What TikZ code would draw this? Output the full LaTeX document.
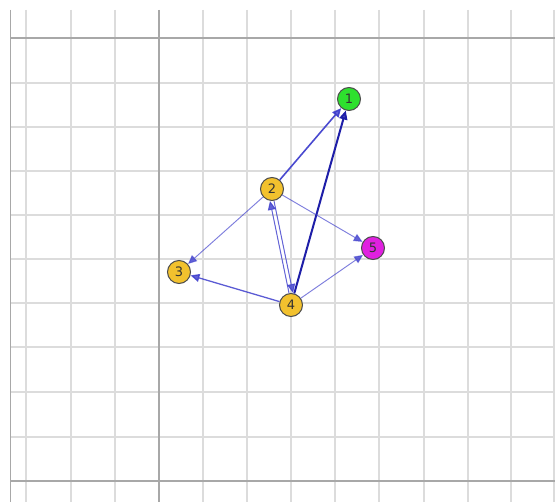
\documentclass[tikz,border=0pt]{standalone}
\usepackage{fontspec}
\setmainfont{DejaVu Sans}
\usetikzlibrary{arrows.meta}
\definecolor{gridlight}{HTML}{DCDCDC}
\definecolor{griddark}{HTML}{A8A8A8}
\definecolor{nodeorange}{HTML}{F2C12E}
\definecolor{nodegreen}{HTML}{2EE02E}
\definecolor{nodemag}{HTML}{E020E0}
\definecolor{edgeblue}{HTML}{3A3ACC}
\definecolor{edgenavy}{HTML}{1E1EA8}
\tikzset{
  vertex/.style={circle, draw=black!70, line width=1pt, minimum size=23pt, inner sep=0pt, font=\fontsize{13}{13}\selectfont, text=black!80},
  edge/.style={-{Triangle[length=9pt,width=8pt]}, draw=edgeblue, line width=1pt, draw opacity=0.55, fill opacity=0.8, fill=edgeblue},
  edgestrong/.style={edge, draw opacity=0.9, line width=1.6pt},
  gl/.style={draw=gridlight, line width=1.4pt},
  gd/.style={draw=griddark, line width=1.4pt},
}
\begin{document}
\begin{tikzpicture}[x=1pt,y=-1pt]
\useasboundingbox (0,0) rectangle (555,502);
\fill[white] (0,0) rectangle (555,502);
% vertical grid lines
\foreach \x in {26,71,115,203,247,291,335,379,424,468,511,554}
  \draw[gl] (\x,10) -- (\x,502);
% horizontal grid lines
\foreach \y in {83,127,171,215,259,303,347,392,437}
  \draw[gl] (10,\y) -- (555,\y);
\draw[gd] (159,10) -- (159,502);
\draw[gd] (10,38) -- (555,38);
\draw[gd] (10,481) -- (555,481);
\draw[gd] (10.5,10) -- (10.5,502);
% nodes
\node[vertex, fill=nodegreen] (n1) at (349,99) {1};
\node[vertex, fill=nodeorange] (n2) at (272,189) {2};
\node[vertex, fill=nodeorange] (n3) at (179,272) {3};
\node[vertex, fill=nodeorange] (n4) at (291,305) {4};
\node[vertex, fill=nodemag] (n5) at (373,248) {5};
% edges
\draw[edgestrong] (n2) -- (n1);
\draw[edgestrong, draw=edgenavy, fill=edgenavy, line width=2pt, draw opacity=1] (n4) -- (n1);
\draw[edge] (n2) -- (n3);
\draw[edge] (n2) -- (n5);
\draw[edge, draw opacity=0.8, line width=1.3pt] (n4) -- (n3);
\draw[edge] (n4) -- (n5);
\draw[edge, draw opacity=0.75] ([xshift=-2pt]n4.north) -- ([xshift=-2pt]n2.south);
\draw[edge, draw opacity=0.75] ([xshift=2pt]n2.south) -- ([xshift=2pt]n4.north);
\end{tikzpicture}
\end{document}
